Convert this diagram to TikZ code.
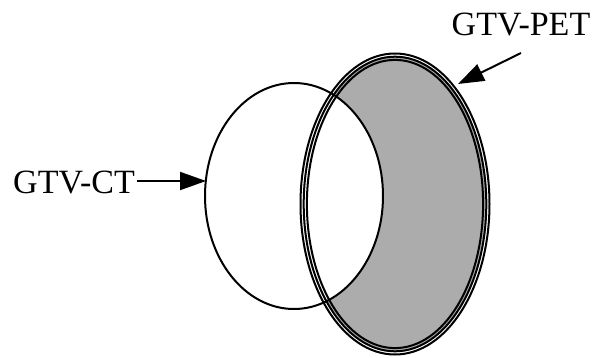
\documentclass[tikz,border=0pt]{standalone}
\usepackage{fontspec}
\setmainfont{Liberation Serif}
\usetikzlibrary{arrows.meta}
\definecolor{petgray}{RGB}{172,172,172}
\begin{document}
\begin{tikzpicture}[x=1pt,y=-1pt,
  lbl/.style={inner sep=0pt,font=\fontsize{34}{40}\selectfont},
  outline/.style={line width=2pt,black},
  pointer/.style={line width=2pt,-{Triangle[length=26pt,width=18pt]}}]
\useasboundingbox (0,0) rectangle (598,357);
\coordinate (ctc) at (294,196);
\coordinate (petc) at (395,204);
\begin{scope}
  \clip (petc) ellipse [x radius=92, y radius=148];
  \fill[petgray] (petc) ellipse [x radius=92, y radius=148];
  \fill[white] (ctc) ellipse [x radius=89, y radius=113];
\end{scope}
\draw[outline] (ctc) ellipse [x radius=89, y radius=113];
\draw[outline] (petc) ellipse [x radius=94.5, y radius=150.5];
\draw[outline] (petc) ellipse [x radius=91.3, y radius=147.3];
\draw[outline] (petc) ellipse [x radius=88.1, y radius=144.1];
\node[lbl] (ct) at (74,182) {GTV-CT};
\node[lbl] (pet) at (521,24) {GTV-PET};
\coordinate (ctedge) at (206,181);
\coordinate (petedge) at (458,84);
\coordinate (petstart) at (521,53);
\draw[pointer] (ct.east) ++(2,-1) -- (ctedge);
\draw[pointer] (petstart) -- (petedge);
\end{tikzpicture}
\end{document}
